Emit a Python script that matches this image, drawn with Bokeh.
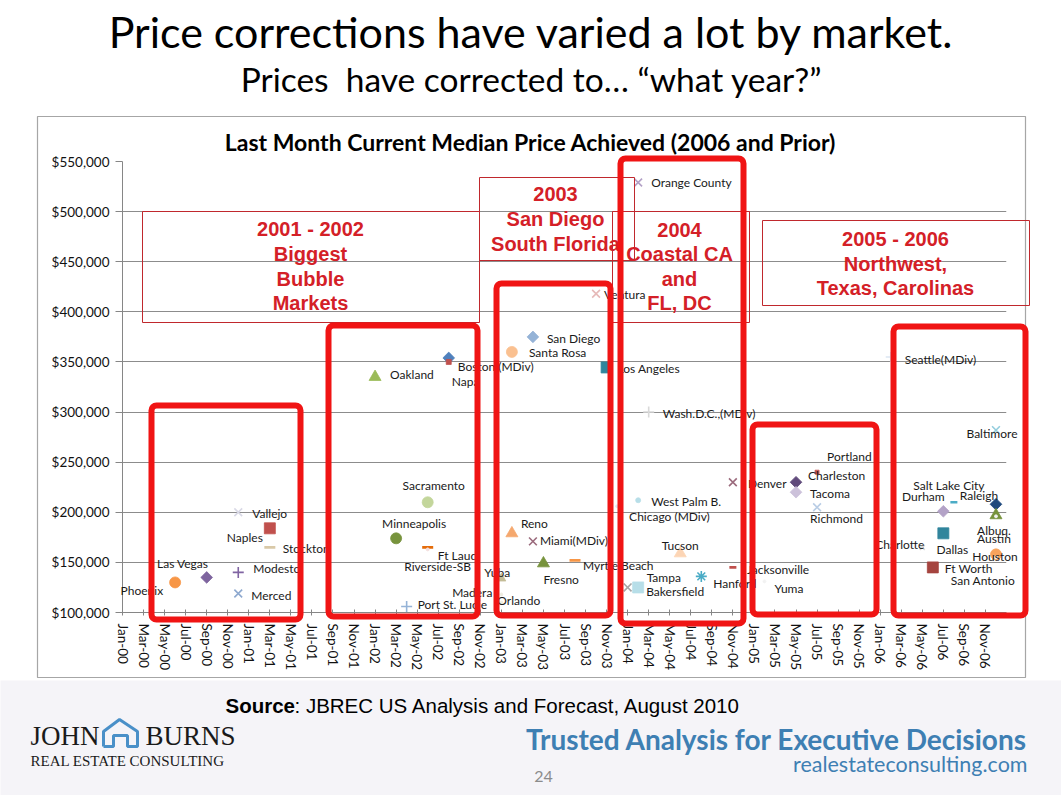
import math
from bokeh.plotting import figure
from bokeh.models import ColumnDataSource, FixedTicker, NumeralTickFormatter, Range1d
from bokeh.core.properties import value
from bokeh.embed import file_html
from bokeh.resources import INLINE

# ---------------------------------------------------------------------------
# Data: month (counted from Jan-2000) whose median price matches the current
# median, and that price, for each market.
# ---------------------------------------------------------------------------
cities = [
    "Phoenix", "Las Vegas", "Modesto", "Merced", "Vallejo", "Naples", "Stockton",
    "Oakland", "Boston (MDiv)", "Napa", "Sacramento", "Minneapolis", "Ft Laud",
    "Riverside-SB", "Port St. Lucie", "Yuba", "Madera", "Orlando",
    "San Diego", "Santa Rosa", "Ventura", "Los Angeles", "Reno", "Miami(MDiv)",
    "Fresno", "Myrtle Beach",
    "Orange County", "Wash.D.C.,(MDiv)", "West Palm B.", "Chicago (MDiv)", "Tucson",
    "Tampa", "Bakersfield", "Hanford", "Denver", "Jacksonville", "Yuma",
    "Charleston", "Portland", "Tacoma", "Richmond",
    "Seattle(MDiv)", "Baltimore", "Salt Lake City", "Durham", "Raleigh", "Albuq.",
    "Austin", "Dallas", "Charlotte", "Houston", "Ft Worth", "San Antonio",
]
months = [
    5, 8, 11, 11, 11, 14, 14,
    24, 31, 31, 29, 26, 29,
    29, 27, 36, 36, 36,
    39, 37, 45, 46, 37, 39,
    40, 43,
    49, 50, 49, 47, 53,
    48, 49, 55, 58, 58, 61,
    64, 66, 64, 66,
    73, 83, 79, 78, 83, 83,
    83, 78, 76, 83, 77, 83,
]
prices = [
    130000, 135000, 140000, 119000, 200000, 184000, 165000,
    335000, 354000, 350000, 210000, 174000, 165000,
    163000, 106000, 134000, 118000, 110000,
    375000, 360000, 418000, 344500, 179000, 171000,
    149000, 152000,
    529000, 300000, 212000, 206000, 159000,
    125000, 125000, 136000, 230000, 145000, 131000,
    230000, 240000, 220000, 205000,
    355000, 282000, 210000, 201000, 208000, 197000,
    196000, 179000, 165000, 158000, 145000, 155000,
]

# Marker style for each market
markers = [
    "circle", "diamond", "cross", "x", "x", "square", "dash",
    "triangle", "diamond", "square", "circle", "circle", "dash",
    "dot", "cross", "triangle", "dot", "dot",
    "diamond", "circle", "x", "square", "triangle", "x",
    "triangle", "dash",
    "x", "cross", "dot", "dot", "triangle",
    "x", "square", "asterisk", "x", "dash", "dot",
    "diamond", "square", "diamond", "x",
    "cross", "x", "dash", "diamond", "diamond", "triangle",
    "dot", "square", "x", "circle", "square", "dot",
]
colors = [
    "#F79646", "#7E649E", "#8064A2", "#8EA9CF", "#D9D9E6", "#C0504D", "#D9C9A8",
    "#9BBB59", "#4F81BD", "#C0504D", "#C3D69B", "#77933C", "#E46C0A",
    "#F2DCDB", "#95B3D7", "#C4BD97", "#EEECE1", "#EEECE1",
    "#95B3D7", "#FAC090", "#E6B9B8", "#31859C", "#F5A86E", "#9B6B7D",
    "#77933C", "#F79646",
    "#B3A2C7", "#D9D9D9", "#B7DEE8", "#DCE6F2", "#FCD5B5",
    "#A6A6A6", "#B7DEE8", "#4BACC6", "#9B6B7D", "#C0504D", "#F2F2F2",
    "#604A7B", "#C0504D", "#CCC1DA", "#B9CDE5",
    "#DCE6F2", "#93CDDD", "#4BACC6", "#B3A2C7", "#1F497D", "#77933C",
    "#F2F2F2", "#31859C", "#D9D9D9", "#F7A35C", "#A5443F", "#F2F2F2",
]
sizes = [
    11, 11, 11, 11, 11, 11, 11,
    12, 11, 5, 11, 11, 11,
    3, 11, 9, 3, 3,
    11, 11, 11, 11, 12, 11,
    12, 11,
    11, 11, 5, 3, 12,
    11, 11, 11, 11, 7, 3,
    11, 4, 11, 11,
    10, 11, 7, 11, 11, 12,
    3, 11, 7, 11, 11, 3,
]

# Data-label placement, pixels from the marker (dy positive = up)
label_align = [
    "right", "center", "left", "left", "left", "right", "left",
    "left", "left", "left", "center", "center", "left",
    "center", "left", "left", "right", "left",
    "left", "left", "left", "left", "left", "left",
    "left", "left",
    "left", "left", "left", "left", "center",
    "left", "left", "left", "left", "left", "left",
    "left", "left", "left", "left",
    "left", "center", "center", "center", "center", "center",
    "center", "center", "right", "center", "left", "center",
]
label_dx = [
    -12, -24, 15, 13, 14, -7, 13,
    15, 9, 3, 6, 18, 10,
    10, 11, -17, -9, -4,
    14, 17, 8, 11, 9, 7,
    0, 8,
    13, 14, 13, 12, 0,
    19, 8, 12, 15, 14, 10,
    12, 10, 14, -7,
    14, -4, -5, -20, -17, -2,
    -2, 9, 2, -1, 12, -13,
]
label_dy = [
    -8, 14, 4, -2, -1, -9, -1,
    2, -9, -20, 17, 15, -8,
    -17, 2, 6, 2, 2,
    -2, -1, -1, -1, 10, 1,
    -16, -5,
    0, -1, -1, -10, 8,
    10, -4, -7, -1, -2, -7,
    7, 16, -1, -11,
    -3, -3, 17, 15, 9, -15,
    -22, -16, 3, -2, -1, -23,
]

y_ticks = [100000, 150000, 200000, 250000, 300000, 350000, 400000, 450000, 500000, 550000]
tick_months = [0, 2, 4, 6, 8, 10, 12, 14, 16, 18, 20, 22, 24, 26, 28, 30, 32, 34, 36, 38, 40,
               42, 44, 46, 48, 50, 52, 54, 56, 58, 60, 62, 64, 66, 68, 70, 72, 74, 76, 78, 80, 82]
tick_labels = [
    "Jan-00", "Mar-00", "May-00", "Jul-00", "Sep-00", "Nov-00",
    "Jan-01", "Mar-01", "May-01", "Jul-01", "Sep-01", "Nov-01",
    "Jan-02", "Mar-02", "May-02", "Jul-02", "Sep-02", "Nov-02",
    "Jan-03", "Mar-03", "May-03", "Jul-03", "Sep-03", "Nov-03",
    "Jan-04", "Mar-04", "May-04", "Jul-04", "Sep-04", "Nov-04",
    "Jan-05", "Mar-05", "May-05", "Jul-05", "Sep-05", "Nov-05",
    "Jan-06", "Mar-06", "May-06", "Jul-06", "Sep-06", "Nov-06",
]

# ---------------------------------------------------------------------------
# Page geometry
# ---------------------------------------------------------------------------
W, H = 1061, 795
FL, FR, FT, FB = 122, 1006, 161, 612          # plot frame edges on the page
X0, X1 = 0, 84                                # Jan-00 .. Jan-07
Y0, Y1 = 100000, 550000
PXX = (X1 - X0) / (FR - FL)                   # data units per pixel
PXY = (Y1 - Y0) / (FB - FT)


def px_x(px):
    """page pixel column -> data x"""
    return X0 + (px - FL) * PXX


def px_y(py):
    """page pixel row -> data y"""
    return Y0 + (FB - py) * PXY


p = figure(width=W, height=H, output_backend="svg", toolbar_location=None,
           x_range=Range1d(X0, X1), y_range=Range1d(Y0, Y1),
           min_border_left=FL, min_border_right=W - FR,
           min_border_top=FT, min_border_bottom=H - FB)
p.title.text = ""
p.outline_line_color = None
p.background_fill_color = "white"
p.border_fill_color = "white"


def put_text(px, py, txt, size, font="Lato", color="#000000", align="left", style="normal"):
    p.text(x=[px_x(px)], y=[px_y(py)], text=[txt], text_font=value(font),
           text_font_size=value(size), text_color=color, text_align=align,
           text_baseline="middle", text_font_style=style, level="overlay")


def frame_box(l, t, r, b, color, width, radius=0, fill=None):
    p.quad(left=[px_x(l)], right=[px_x(r)], top=[px_y(t)], bottom=[px_y(b)],
           fill_color=fill, line_color=color, line_width=width,
           border_radius=radius, level="overlay")


# page footer band and chart-area outline
frame_box(0, 680, W, H, None, 0, fill="#F5F4F8")
frame_box(37, 116, 1025, 677, "#A6A6A6", 1.2)

# axes
p.xgrid.visible = False
p.ygrid.grid_line_color = "#8C8C8C"
p.ygrid.grid_line_width = 1

p.yaxis.ticker = FixedTicker(ticks=y_ticks)
p.yaxis.formatter = NumeralTickFormatter(format="$0,0")
p.yaxis.major_label_text_font = "Lato"
p.yaxis.major_label_text_font_size = "13.5px"
p.yaxis.major_label_text_color = "#111111"
p.yaxis.axis_line_color = "#868686"
p.yaxis.major_tick_line_color = "#868686"
p.yaxis.minor_tick_line_color = None
p.yaxis.major_tick_out = 7
p.yaxis.major_tick_in = 0
p.yaxis.major_label_standoff = 6

p.xaxis.ticker = FixedTicker(ticks=tick_months)
p.xaxis.major_label_overrides = {m: t for m, t in zip(tick_months, tick_labels)}
p.xaxis.major_label_orientation = "vertical"
p.xaxis.major_label_text_font = "Lato"
p.xaxis.major_label_text_font_size = "13.5px"
p.xaxis.major_label_text_color = "#111111"
p.xaxis.axis_line_color = "#868686"
p.xaxis.major_tick_line_color = "#868686"
p.xaxis.minor_tick_line_color = None
p.xaxis.major_tick_out = 3
p.xaxis.major_tick_in = 3
p.xaxis.major_label_standoff = 8

# ---------------------------------------------------------------------------
# Markers
# ---------------------------------------------------------------------------
bokeh_marker = {"circle": "circle", "square": "square", "diamond": "square", "triangle": "triangle",
                "x": "x", "cross": "cross", "asterisk": "asterisk", "dash": "dash", "dot": "circle"}
line_only = {"x", "cross", "asterisk", "dash"}

src = ColumnDataSource(dict(
    month=months, price=prices, city=cities,
    marker=[bokeh_marker[m] for m in markers],
    angle=[math.pi / 4 if m == "diamond" else 0 for m in markers],
    size=[s * 0.75 if m == "diamond" else s for m, s in zip(markers, sizes)],
    color=colors,
    fill=[None if m in line_only else c for m, c in zip(markers, colors)],
    lw=[2.6 if m == "dash" else (1.6 if m in line_only else 0.8) for m in markers],
))
p.scatter("month", "price", source=src, marker="marker", angle="angle", size="size",
          line_color="color", fill_color="fill", line_width="lw")

# ---------------------------------------------------------------------------
# Data labels (placed in data space, shifted by a few pixels from each marker)
# ---------------------------------------------------------------------------
for align in ("left", "center", "right"):
    idx = [i for i, a in enumerate(label_align) if a == align]
    lsrc = ColumnDataSource(dict(
        lx=[months[i] + label_dx[i] * PXX for i in idx],
        ly=[prices[i] + label_dy[i] * PXY for i in idx],
        city=[cities[i] for i in idx],
    ))
    p.text(x="lx", y="ly", text="city", source=lsrc, text_align=align,
           text_baseline="middle", text_font=value("Lato"),
           text_font_size=value("12px"), text_color="#1A1A1A", level="overlay")

# ---------------------------------------------------------------------------
# Period call-outs
# ---------------------------------------------------------------------------
callouts = [
    ((142, 211, 479, 322), 310, [228, 253, 278, 302], ["2001 - 2002", "Biggest", "Bubble", "Markets"]),
    ((479, 177, 634, 260), 555, [193, 218, 243], ["2003", "San Diego", "South Florida"]),
    ((612, 211, 749, 322), 679, [229, 253, 278, 302], ["2004", "Coastal CA", "and", "FL, DC"]),
    ((762, 220, 1029, 305), 895, [238, 263, 287], ["2005 - 2006", "Northwest,", "Texas, Carolinas"]),
]
for (l, t, r, b), cx, rows, lines in callouts:
    frame_box(l, t, r, b, "#C0282D", 1)
    for ry, txt in zip(rows, lines):
        put_text(cx, ry, txt, "20px", font="Liberation Sans", color="#D42027",
                 align="center", style="bold")

period_frames = [
    (151, 405, 300, 619),
    (328, 325, 477, 616),
    (496, 283, 610, 615),
    (620, 158, 743, 623),
    (752, 424, 876, 614),
    (893, 326, 1025, 615),
]
for l, t, r, b in period_frames:
    frame_box(l, t, r, b, "#F01414", 6, radius=5)

# ---------------------------------------------------------------------------
# Titles and footer
# ---------------------------------------------------------------------------
put_text(531, 31, "Price corrections have varied a lot by market.", "43px", align="center")
put_text(531, 78, "Prices\u00a0 have corrected to\u2026 \u201cwhat year?\u201d", "33.5px", align="center")
put_text(530, 141, "Last Month Current Median Price Achieved (2006 and Prior)", "23px",
         align="center", style="bold")

put_text(225, 705, "Source", "20.5px", font="Liberation Sans", style="bold")
put_text(294, 705, ": JBREC US Analysis and Forecast, August 2010", "20.5px", font="Liberation Sans")
put_text(1027, 738, "Trusted Analysis for Executive Decisions", "28px", color="#3E7FB3",
         align="right", style="bold")
put_text(1027, 763, "realestateconsulting.com", "21.5px", color="#3E7FB3", align="right")
put_text(543, 776, "24", "16px", color="#8C8C8C", align="center")

# company logo
put_text(30, 735, "JOHN", "27px", font="Liberation Serif", color="#1A1A1A")
put_text(235, 735, "BURNS", "27px", font="Liberation Serif", color="#1A1A1A", align="right")
put_text(30, 760, "REAL ESTATE CONSULTING", "15px", font="Liberation Serif", color="#1A1A1A")
house_x = [103, 103, 119, 137, 137, 127, 127, 113, 113, 103]
house_y = [746, 731, 719, 731, 746, 746, 735, 735, 746, 746]
p.line(x=[px_x(v) for v in house_x], y=[px_y(v) for v in house_y],
       line_color="#4A90C8", line_width=3, level="overlay")

open("out.html", "w").write(file_html(p, INLINE))
